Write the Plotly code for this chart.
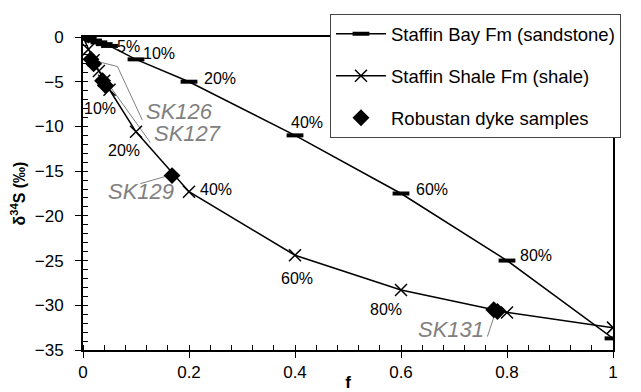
import plotly.graph_objects as go

# ---------------- data ----------------
f_sand = [0, 0.01, 0.02, 0.03, 0.04, 0.05, 0.1, 0.2, 0.4, 0.6, 0.8, 1.0]
d34s_sand = [0, -0.2, -0.4, -0.6, -0.8, -1.0, -2.5, -5.0, -11.0, -17.5, -25.0, -33.7]

f_shale = [0, 0.01, 0.02, 0.03, 0.04, 0.05, 0.1, 0.2, 0.4, 0.6, 0.8, 1.0]
d34s_shale = [0, -1.4, -2.6, -3.8, -4.9, -5.9, -10.6, -17.3, -24.4, -28.3, -30.8, -32.5]

f_dyke = [0.015, 0.02, 0.037, 0.042, 0.168, 0.775, 0.782]
d34s_dyke = [-2.5, -3.0, -4.9, -5.4, -15.5, -30.5, -30.7]

# percentage labels (sandstone curve)
sand_pct_text = ["5%", "10%", "20%", "40%", "60%", "80%"]
sand_pct_x = [0.085, 0.143, 0.259, 0.422, 0.659, 0.854]
sand_pct_y = [-1.1, -1.8, -4.6, -9.6, -17.1, -24.4]

# percentage labels (shale curve)
shale_pct_text = ["10%", "20%", "40%", "60%", "80%"]
shale_pct_x = [0.033, 0.077, 0.25, 0.403, 0.571]
shale_pct_y = [-8.0, -12.7, -17.1, -27.0, -30.5]

# sample labels
sample_text = ["SK126", "SK127", "SK129", "SK131"]
sample_x = [0.115, 0.131, 0.176, 0.76]
sample_y = [-8.3, -10.8, -17.3, -32.7]
sample_anchor = ["left", "left", "right", "right"]

# leader lines (label -> sample)
leader_x = [[0.112, 0.065, 0.025], [0.127, 0.052, 0.041], [0.108, 0.161], [0.763, 0.777]]
leader_y = [[-9.3, -3.3, -2.7], [-11.8, -5.6, -5.2], [-16.4, -15.5], [-33.5, -31.0]]

x_ticks = [0, 0.2, 0.4, 0.6, 0.8, 1]
x_ticklabels = ["0", "0.2", "0.4", "0.6", "0.8", "1"]
y_ticks = [0, -5, -10, -15, -20, -25, -30, -35]

GRAY = "#808080"
FONT = "Liberation Sans, Arial, sans-serif"
TICKFONT = dict(family=FONT, size=17, color="black")

fig = go.Figure()

# leader lines first (under markers)
for lx, ly in zip(leader_x, leader_y):
    fig.add_trace(go.Scatter(x=lx, y=ly, mode="lines", line=dict(color=GRAY, width=1),
                             showlegend=False, hoverinfo="skip"))

fig.add_trace(go.Scatter(
    x=f_sand, y=d34s_sand, mode="lines+markers", name="Staffin Bay Fm (sandstone)",
    line=dict(color="black", width=1.5),
    marker=dict(symbol="line-ew", size=12, color="black", line=dict(color="black", width=4)),
    legendgroup="a"))

fig.add_trace(go.Scatter(
    x=f_shale, y=d34s_shale, mode="lines+markers", name="Staffin Shale Fm (shale)",
    line=dict(color="black", width=1.5),
    marker=dict(symbol="x-thin", size=12, color="black", line=dict(color="black", width=1.5)),
    legendgroup="b"))

fig.add_trace(go.Scatter(
    x=f_dyke, y=d34s_dyke, mode="markers", name="Robustan dyke samples",
    marker=dict(symbol="diamond", size=13, color="black"),
    legendgroup="c"))

for t, x, y in zip(sand_pct_text + shale_pct_text, sand_pct_x + shale_pct_x, sand_pct_y + shale_pct_y):
    fig.add_annotation(x=x, y=y, text=t, showarrow=False,
                       font=dict(family=FONT, size=16, color="black"))

for t, x, y, a in zip(sample_text, sample_x, sample_y, sample_anchor):
    fig.add_annotation(x=x, y=y, text="<i>" + t + "</i>", showarrow=False, xanchor=a,
                       font=dict(family=FONT, size=22, color=GRAY))

# page body has an 8px margin, so the figure is sized/margined to compensate
fig.update_layout(
    width=633, height=384,
    margin=dict(l=74.5, r=28.3, t=28.7, b=42, autoexpand=False),
    paper_bgcolor="white", plot_bgcolor="white",
    showlegend=True,
    legend=dict(x=0.466, y=1.073, xanchor="left", yanchor="top",
                bgcolor="white", bordercolor="#444", borderwidth=1,
                font=dict(family=FONT, size=18.5, color="black"),
                tracegroupgap=15, itemwidth=50, entrywidth=300),
    xaxis=dict(range=[0, 1], tickvals=x_ticks, ticktext=x_ticklabels,
               showline=True, linecolor="black", linewidth=2, mirror=True,
               ticks="outside", ticklen=6, tickwidth=1, tickcolor="black",
               minor=dict(dtick=0.04, ticks="inside", ticklen=5, tickcolor="black", tickwidth=1),
               showgrid=False, zeroline=False, tickfont=TICKFONT,
               title=dict(text="<b>f</b>", standoff=13,
                          font=dict(family=FONT, size=17, color="black"))),
    yaxis=dict(range=[-35, 0], tickvals=y_ticks,
               showline=True, linecolor="black", linewidth=2, mirror=True,
               ticks="outside", ticklen=6, tickwidth=1, tickcolor="black",
               minor=dict(dtick=1, ticks="inside", ticklen=5, tickcolor="black", tickwidth=1),
               showgrid=False, zeroline=False, tickfont=TICKFONT, ticklabelstandoff=8,
               title=dict(text="<b>δ<sup>34</sup>S (‰)</b>", standoff=10,
                          font=dict(family=FONT, size=16, color="black"))),
)

fig.write_html("out.html")
